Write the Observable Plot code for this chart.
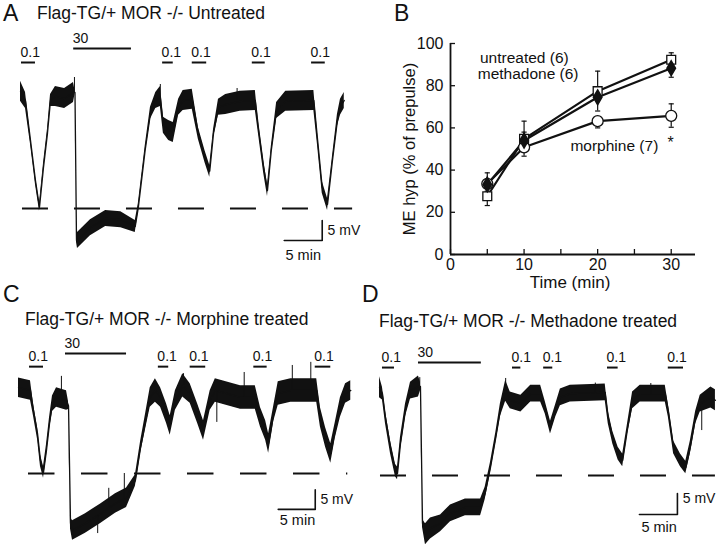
<!DOCTYPE html>
<html><head><meta charset="utf-8">
<script src="https://cdn.jsdelivr.net/npm/d3@7"></script>
<script src="https://cdn.jsdelivr.net/npm/@observablehq/plot@0.6"></script>
<style>
body{margin:0;background:#fff;font-family:"Liberation Sans",Arial,sans-serif;}
#fig{position:relative;width:720px;height:548px;overflow:hidden;background:#fff;}
.abs{position:absolute;line-height:1;white-space:nowrap;color:#111;}
.abs svg{display:block;overflow:visible;}
</style></head><body><div id="fig"></div>
<script>
// ---------- Panel B data ----------
const times = [5, 10, 20, 30];
const untreatedMean = [27.6, 54.8, 77.4, 92.3];
const untreatedHi   = [null, 63.2, 86.9, 95.6];
const untreatedLo   = [23.2, null, null, null];
const methadoneMean = [33.2, 54.0, 74.5, 88.3];
const methadoneHi   = [38.7, 58.0, null, null];
const methadoneLo   = [null, null, 68.0, 84.0];
const morphineMean  = [33.5, 50.8, 63.2, 65.7];
const morphineHi    = [null, null, null, 71.4];
const morphineLo    = [30.0, 46.6, 60.0, 60.3];
const yTicksB = [0, 20, 40, 60, 80, 100];
const xTicksB = [0, 10, 20, 30];
const xMinorB = [5, 15, 25];

// ---------- Trace A (Untreated): time (min), membrane potential (mV above baseline), noise half-width (mV)
const traceA_t  = [0,0.66,1.32,1.97,2.5,3.03,3.55,3.95,4.6,5.8,6.97,7.17,7.37,7.5,9.2,11.2,13.2,15.1,15.5,16.4,17.1,17.8,18.4,18.8,19.5,20.1,20.8,21.4,22.6,23.4,24.3,24.9,25.4,26.05,27,28.9,30.9,31.3,32,32.5,33,33.7,34.9,38.6,39.1,39.7,40.4,41.05,41.7,42.1,42.6];
const traceA_v  = [29.3,27,17,7,0.3,10.3,18.8,27,28,27.5,29,29,-8,-8,-4.8,-2.5,-2.8,-4.5,0.2,14.5,23.8,27,28,20.8,19.5,19,25.3,27,27.3,18.8,12.8,9.3,18.8,25.3,26,26.8,27,20.3,10.3,4.5,14.5,24.5,26.8,27,17,5.3,1,12,22,25.3,27];
const traceA_hw = [2.5,2,1,1,1,1,1,1.5,2.5,2.5,2.5,0.5,0.5,2,2,2,2,1.5,1,1,1.5,2,2.5,2,2.5,2.5,2,2.5,2.5,1.5,1.5,1.5,1,2,2.5,2.5,2.5,1.5,1.5,1.5,1,2,2.5,2.5,1.5,1.5,1.5,1,1.5,2,2];
const spikeA_t = [7.1, 18.4, 28.5];
const spikeA_from = [29, 28, 27];
const spikeA_to = [32.75, 31, 30];
const drugA_start = [0.13, 7.0, 18.7, 22.6, 30.5, 38.3];
const drugA_end   = [1.97, 14.6, 20.1, 24.5, 32.2, 40.1];
const drugA_conc  = ["0.1", "30", "0.1", "0.1", "0.1", "0.1"];

// ---------- Trace C (Morphine treated)
const traceC_t  = [0,1.62,2.03,2.57,2.97,3.38,3.78,4.19,4.59,5.14,6.49,6.76,7.03,7.3,9.05,11.1,13.1,14.6,15.8,16.5,17.2,17.8,18.5,19.2,20,20.5,21.2,22.2,23.2,24.2,25,25.9,26.6,30,32,32.7,33.4,33.8,34.5,35.1,36.8,40.3,40.8,41.5,42.2,42.8,43.5,44.2,44.9];
const traceC_v  = [22,21.3,16.2,10.3,3.3,0.3,5.9,12.8,17.9,19.5,18.7,17.4,-12.8,-14.6,-12.8,-10.3,-7.7,-6.2,-1.8,6.7,13.6,19.5,21.3,19.5,15.4,12.3,18.7,22.6,20.5,15.4,11,18.7,21.3,19.5,19.5,14.4,11,7.7,15.4,20.5,21.3,21.3,14.4,9.2,5.1,11,16.9,20.5,21.3];
const traceC_hw = [2.5,2.5,1.5,1.5,1.5,1.5,1.5,1.5,2,2.5,2.5,1,1.5,2.5,2.5,2.5,2.5,2.5,1.5,1.5,2,2.5,3,2.5,2.5,2.5,2.5,3,2.5,2.5,2.5,2.5,3,3,3,2.5,2.5,2.5,2,3,3,3,2.5,2.5,2.5,2,2.5,2.5,2.5];
const spikeC_t = [5.8, 7.4, 10.7, 12.2, 14.3, 22.3, 26.8, 30.5, 37.0, 39.5];
const spikeC_from = [19.5, -14.6, -11, -8.5, -6.5, 22.6, 21, 19.5, 21.3, 21.3];
const spikeC_to = [24.9, -16.7, -15.4, -3.8, 0, 25.6, 13.1, 25.9, 27.7, 28.5];
const drugC_start = [1.49, 6.35, 18.9, 23.2, 31.8, 40.1];
const drugC_end   = [3.38, 14.6, 20.3, 25.3, 33.6, 42.2];
const drugC_conc  = ["0.1", "30", "0.1", "0.1", "0.1", "0.1"];

// ---------- Trace D (Methadone treated)
const traceD_t  = [0,0.39,0.79,1.45,2.1,2.37,2.76,3.42,4.08,5.13,5.39,5.66,6.05,6.71,8.03,9.34,11.3,13.3,13.9,14.6,15.3,15.9,16.6,17.2,18.6,19.9,21.2,21.8,22.5,23.2,23.8,25.1,29.7,30.1,30.7,31.4,32,32.6,33.3,34.3,37.6,38,38.7,39.6,40.3,40.9,41.6,42.2,43.6,44.2];
const traceD_v  = [21,19.5,13.8,6.7,1.2,0.5,7.6,15.5,20.2,21.2,21.2,-11.4,-14,-12.6,-11.4,-9,-7.6,-7.6,-4.3,1.9,9,15.5,20.2,17.9,17.1,19.5,19.5,16.2,11.4,15.5,18.6,19.5,19.8,13.8,9,5.2,3.6,10.7,17.9,19.5,19.5,15.5,6.7,3.6,1.9,6.7,13.8,17.1,18.6,17.9];
const traceD_hw = [2.5,1.5,1.5,1.5,1.5,1.5,1.5,1.5,2,2.5,1,1,2.5,2.5,2,2,2,2,1.5,1.2,1.2,1.5,2.5,2,2,2,2,1.5,1.5,1.5,2,2,2,1.5,1.5,1.5,1.5,1.2,2,2,2,1.5,1.5,1.5,1.5,1.5,1.5,2,2.5,2.5];
const spikeD_t = [5.3, 16.6, 28.4, 35.7, 42.4];
const spikeD_from = [21.2, 20.2, 19.8, 19.5, 17];
const spikeD_to = [23.3, 23.1, 22, 21.9, 10.7];
const drugD_start = [0.39, 5.13, 17.5, 21.6, 30.0, 38.0];
const drugD_end   = [1.97, 13.4, 18.6, 22.8, 31.4, 40.0];
const drugD_conc  = ["0.1", "30", "0.1", "0.1", "0.1", "0.1"];

// ---------- layout ----------
const fig = document.getElementById("fig");
const INK = "#111";
const FONT = "Liberation Sans, Arial, sans-serif";

function addText(txt, left, top, size){
  const d = document.createElement("div");
  d.className = "abs"; d.textContent = txt;
  d.style.left = left + "px"; d.style.top = top + "px"; d.style.fontSize = size + "px";
  fig.appendChild(d);
}
function place(svg, left, top){
  const d = document.createElement("div");
  d.className = "abs"; d.style.left = left + "px"; d.style.top = top + "px";
  d.appendChild(svg); fig.appendChild(d);
}

function tracePanel(cfg){
  const {box, x0, y0, pxMin, pxMV, t, v, hw, spT, spFrom, spTo, start, end, conc, barLevel, dash, dashPx, sb} = cfg;
  const xd = [(box.left - x0) / pxMin, (box.left + box.width - x0) / pxMin];
  const yd = [(y0 - box.top - box.height) / pxMV, (y0 - box.top) / pxMV];
  const pts = t.map((tt, i) => ({t: tt, v: v[i], lo: v[i] - hw[i], hi: v[i] + hw[i]}));
  const spikes = spT.map((tt, i) => ({t: tt, a: spFrom[i], b: spTo[i]}));
  const drugs = start.map((s, i) => ({start: s, end: end[i], conc: conc[i], level: barLevel[conc[i]]}));
  const sbPath = [{t: sb.t0, v: sb.v0}, {t: sb.t1, v: sb.v0}, {t: sb.t1, v: sb.v1}];
  const svg = Plot.plot({
    width: box.width, height: box.height, margin: 0,
    style: {background: "transparent", fontFamily: FONT, color: INK, overflow: "visible"},
    x: {domain: xd, range: [0, box.width], axis: null},
    y: {domain: yd, range: [box.height, 0], axis: null},
    marks: [
      Plot.ruleY([0], {x1: dash[0], x2: dash[1], stroke: INK, strokeWidth: 2, strokeDasharray: `${dashPx},${dashPx}`}),
      Plot.areaY(pts, {x: "t", y1: "lo", y2: "hi", fill: INK}),
      Plot.line(pts, {x: "t", y: "v", stroke: INK, strokeWidth: 1.3}),
      Plot.ruleX(spikes, {x: "t", y1: "a", y2: "b", stroke: INK, strokeWidth: 1}),
      Plot.ruleY(drugs, {y: "level", x1: "start", x2: "end", stroke: INK, strokeWidth: 2}),
      Plot.text(drugs, {x: "start", y: "level", text: "conc", textAnchor: "start", dy: -10, dx: -1, fontSize: 14, fill: INK}),
      Plot.line(sbPath, {x: "t", y: "v", stroke: INK, strokeWidth: 1.6}),
      Plot.text(["5 mV"], {x: sb.mvT, y: sb.mvV, textAnchor: "start", fontSize: 14, fill: INK}),
      Plot.text(["5 min"], {x: sb.minT, y: sb.minV, textAnchor: "middle", fontSize: 14.5, fill: INK})
    ]
  });
  place(svg, box.left, box.top);
}

// Panel A
addText("A", 3, 2, 23);
addText("Flag-TG/+ MOR -/- Untreated", 37, 5, 17.5);
tracePanel({box: {left: 0, top: 25, width: 375, height: 245}, x0: 20, y0: 208, pxMin: 7.6, pxMV: 4,
  t: traceA_t, v: traceA_v, hw: traceA_hw, spT: spikeA_t, spFrom: spikeA_from, spTo: spikeA_to,
  start: drugA_start, end: drugA_end, conc: drugA_conc,
  barLevel: {"0.1": 36.5, "30": 40}, dash: [0.26, 43.7], dashPx: 26,
  sb: {t0: 34.7, t1: 39.7, v0: -8, v1: -3, mvT: 40.4, mvV: -5.5, minT: 37.2, minV: -11.75}});

// Panel C
addText("C", 3, 283, 23);
addText("Flag-TG/+ MOR -/- Morphine treated", 25, 311, 17.5);
tracePanel({box: {left: 0, top: 330, width: 360, height: 218}, x0: 18, y0: 473, pxMin: 7.4, pxMV: 3.9,
  t: traceC_t, v: traceC_v, hw: traceC_hw, spT: spikeC_t, spFrom: spikeC_from, spTo: spikeC_to,
  start: drugC_start, end: drugC_end, conc: drugC_conc,
  barLevel: {"0.1": 27.4, "30": 30.8}, dash: [1.35, 44.5], dashPx: 26.5,
  sb: {t0: 35.1, t1: 40.1, v0: -9.2, v1: -4.2, mvT: 40.8, mvV: -6.7, minT: 37.7, minV: -12}});

// Panel D
addText("D", 362, 283, 23);
addText("Flag-TG/+ MOR -/- Methadone treated", 379, 313, 17.5);
tracePanel({box: {left: 360, top: 330, width: 360, height: 218}, x0: 379, y0: 475, pxMin: 7.6, pxMV: 4.2,
  t: traceD_t, v: traceD_v, hw: traceD_hw, spT: spikeD_t, spFrom: spikeD_from, spTo: spikeD_to,
  start: drugD_start, end: drugD_end, conc: drugD_conc,
  barLevel: {"0.1": 25.7, "30": 26.9}, dash: [0.13, 44.2], dashPx: 26,
  sb: {t0: 34.2, t1: 39.2, v0: -9.3, v1: -4.3, mvT: 39.9, mvV: -5.5, minT: 36.8, minV: -12.4}});

// Panel B
addText("B", 394, 2, 23);
(function(){
  const series = [
    {name: "untreated", mean: untreatedMean, hi: untreatedHi, lo: untreatedLo},
    {name: "methadone", mean: methadoneMean, hi: methadoneHi, lo: methadoneLo},
    {name: "morphine",  mean: morphineMean,  hi: morphineHi,  lo: morphineLo}
  ];
  const rows = [], err = [];
  for (const s of series) times.forEach((tm, i) => {
    rows.push({series: s.name, time: tm, value: s.mean[i]});
    if (s.hi[i] != null) err.push({series: s.name, time: tm, mean: s.mean[i], end: s.hi[i]});
    if (s.lo[i] != null) err.push({series: s.name, time: tm, mean: s.mean[i], end: s.lo[i]});
  });
  const of = n => rows.filter(d => d.series === n);
  const labels = [
    {text: "untreated (6)", time: 4.0, value: 93.2},
    {text: "methadone (6)", time: 3.7, value: 85.6},
    {text: "morphine (7)", time: 16.3, value: 51.2}
  ];
  const star = [{text: "*", time: 29.9, value: 53}];
  const svg = Plot.plot({
    width: 340, height: 300,
    marginLeft: 70, marginRight: 25, marginTop: 43, marginBottom: 46,
    style: {background: "transparent", fontFamily: FONT, fontSize: "16px", color: INK, overflow: "visible"},
    x: {domain: [0, 33.3]},
    y: {domain: [0, 100]},
    marks: [
      Plot.ruleX([0], {y1: 0, y2: 100, stroke: INK, strokeWidth: 1.8}),
      Plot.ruleY([0], {x1: 0, x2: 33.3, stroke: INK, strokeWidth: 1.8}),
      Plot.axisY(yTicksB, {tickSize: 0, tickPadding: 7, fontSize: 16, fill: INK, label: null}),
      Plot.axisY(yTicksB, {tickSize: -5, tickFormat: () => "", stroke: INK, strokeWidth: 1.3, label: null}),
      Plot.axisX(xTicksB, {tickSize: 0, tickPadding: 4, fontSize: 16, fill: INK, label: null}),
      Plot.axisX(xTicksB.concat(xMinorB), {tickSize: -5, tickFormat: () => "", stroke: INK, strokeWidth: 1.3, label: null}),
      Plot.text(["ME hyp (% of prepulse)"], {frameAnchor: "left", textAnchor: "middle", dx: -41, rotate: -90, fontSize: 16.5, fill: INK}),
      Plot.text(["Time (min)"], {frameAnchor: "bottom", dx: -3, dy: 33, fontSize: 17, fill: INK}),
      Plot.ruleX(err, {x: "time", y1: "mean", y2: "end", stroke: INK, strokeWidth: 1.2}),
      Plot.link(err, {x1: d => d.time - 0.35, x2: d => d.time + 0.35, y1: "end", y2: "end", stroke: INK, strokeWidth: 1.2}),
      Plot.line(rows, {x: "time", y: "value", z: "series", stroke: INK, strokeWidth: 2.2}),
      Plot.dot(of("morphine"), {x: "time", y: "value", symbol: "circle", r: 5.5, fill: "white", stroke: INK, strokeWidth: 1.3}),
      Plot.dot(of("untreated"), {x: "time", y: "value", symbol: "square", r: 5, fill: "white", stroke: INK, strokeWidth: 1.3}),
      Plot.dot(of("methadone"), {x: "time", y: "value", symbol: "diamond", r: 4.5, fill: INK, stroke: INK}),
      Plot.text(labels, {x: "time", y: "value", text: "text", textAnchor: "start", fontSize: 15.5, fill: INK}),
      Plot.text(star, {x: "time", y: "value", text: "text", textAnchor: "middle", fontSize: 16, fill: INK})
    ]
  });
  place(svg, 380, 0);
})();
</script></body></html>
